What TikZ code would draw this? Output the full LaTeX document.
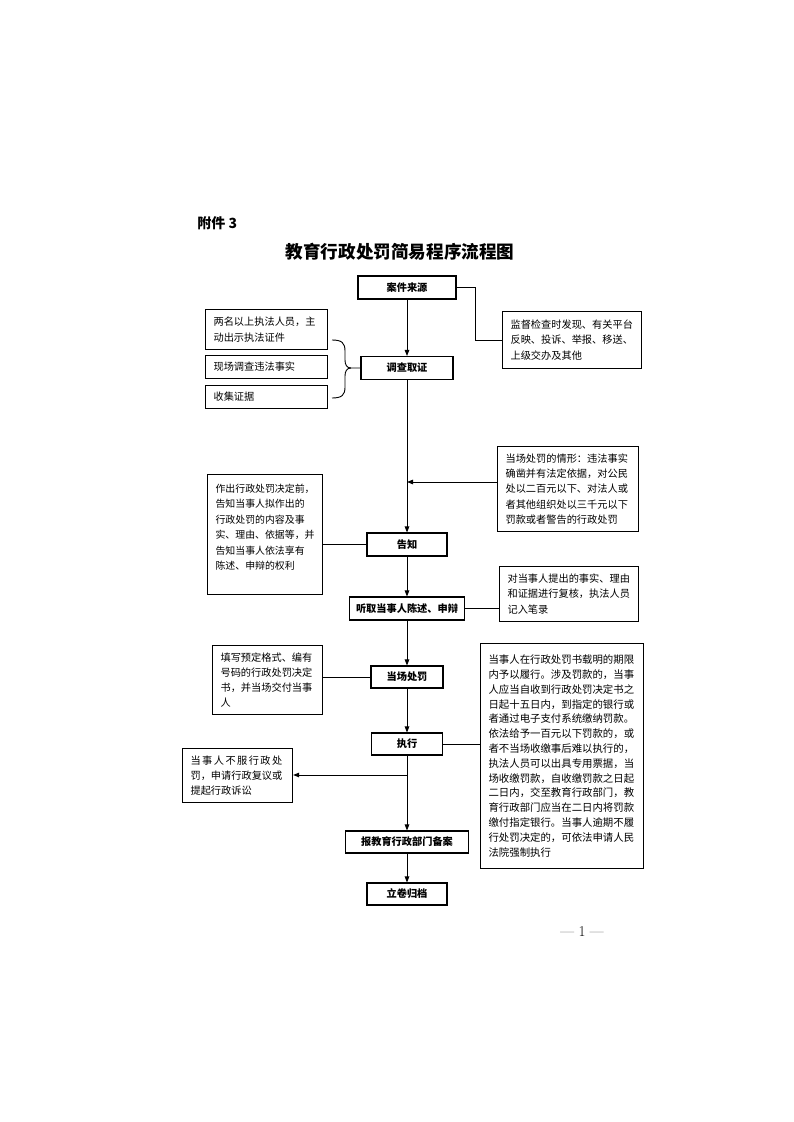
\documentclass[tikz,border=0pt]{standalone}
\usepackage{fontspec}
\newfontfamily\cjk{Noto Sans CJK SC}
\usetikzlibrary{arrows.meta}
\begin{document}
\begin{tikzpicture}[x=1pt,y=-1pt,
  line width=0.9pt,
  arr/.style={-{Triangle[length=6pt,width=4.5pt]}},
  mbox/.style={draw, line width=1.1pt, fill=white, minimum height=23pt, inner sep=0pt,
    font=\cjk\bfseries\fontsize{10.2}{12}\selectfont},
  tbox/.style={draw, line width=1.1pt, fill=white, anchor=north west, inner xsep=8pt, inner ysep=2pt,
    align=left, font=\cjk\fontsize{10.2}{15.2}\selectfont},
]
\useasboundingbox (0,0) rectangle (793,1122);

% heading
\node[anchor=west, inner sep=0pt, font=\cjk\bfseries\fontsize{14}{16}\selectfont] (att) at (197,223) {附件 3};
\node[font=\cjk\bfseries\fontsize{17.6}{20}\selectfont] (title) at (400,252) {教育行政处罚简易程序流程图};

% main flow boxes
\node[mbox, minimum width=98pt] (src) at (407,287.5) {案件来源};
\node[mbox, minimum width=92pt] (inv) at (407,368) {调查取证};
\node[mbox, minimum width=80pt] (ntf) at (407,544.5) {告知};
\node[mbox, minimum width=115pt] (hear) at (407,608.5) {听取当事人陈述、申辩};
\node[mbox, minimum width=72pt, minimum height=22pt] (pen) at (407,677) {当场处罚};
\node[mbox, minimum width=71pt, minimum height=22pt] (exe) at (407,744) {执行};
\node[mbox, minimum width=123pt, minimum height=22pt] (rep) at (407,842) {报教育行政部门备案};
\node[mbox, minimum width=80pt, minimum height=22pt] (arc) at (407,894) {立卷归档};

% side text boxes
\node[tbox, minimum width=139pt, minimum height=57pt, text width=123pt] (mon) at (502,311)
  {监督检查时发现、有关平台\\反映、投诉、举报、移送、\\上级交办及其他};
\node[tbox, minimum width=122pt, minimum height=40pt, text width=106pt] (b1) at (205,309)
  {两名以上执法人员，主\\动出示执法证件};
\node[tbox, minimum width=122pt, minimum height=23pt, text width=106pt] (b2) at (205,355)
  {现场调查违法事实};
\node[tbox, minimum width=122pt, minimum height=23pt, text width=106pt] (b3) at (205,385)
  {收集证据};
\node[tbox, minimum width=141pt, minimum height=85pt, text width=125pt] (sit) at (497,446)
  {当场处罚的情形：违法事实\\确凿并有法定依据，对公民\\处以二百元以下、对法人或\\者其他组织处以三千元以下\\罚款或者警告的行政处罚};
\node[tbox, minimum width=115pt, minimum height=120pt, text width=99pt, font=\cjk\fontsize{9.9}{15.4}\selectfont] (inf) at (207,474)
  {作出行政处罚决定前，\\告知当事人拟作出的\\行政处罚的内容及事\\实、理由、依据等，并\\告知当事人依法享有\\陈述、申辩的权利\\\mbox{}};
\node[tbox, minimum width=139pt, minimum height=55pt, text width=123pt] (rev) at (499,566)
  {对当事人提出的事实、理由\\和证据进行复核，执法人员\\记入笔录};
\node[tbox, minimum width=110pt, minimum height=69pt, text width=94pt] (fill) at (212,645)
  {填写预定格式、编有\\号码的行政处罚决定\\书，并当场交付当事\\人};
\node[tbox, minimum width=163pt, minimum height=225pt, text width=147pt, font=\cjk\fontsize{10.4}{14.8}\selectfont] (big) at (480,643)
  {当事人在行政处罚书载明的期限\\内予以履行。涉及罚款的，当事\\人应当自收到行政处罚决定书之\\日起十五日内，到指定的银行或\\者通过电子支付系统缴纳罚款。\\依法给予一百元以下罚款的，或\\者不当场收缴事后难以执行的，\\执法人员可以出具专用票据，当\\场收缴罚款，自收缴罚款之日起\\二日内，交至教育行政部门，教\\育行政部门应当在二日内将罚款\\缴付指定银行。当事人逾期不履\\行处罚决定的，可依法申请人民\\法院强制执行};
\node[tbox, minimum width=110pt, minimum height=54pt, text width=94pt] (app) at (182,748)
  {\makebox[9em][s]{当\hfil 事\hfil 人\hfil 不\hfil 服\hfil 行\hfil 政\hfil 处}\\罚，申请行政复议或\\提起行政诉讼};

% main arrows
\draw[arr] (src.south) -- (inv.north);
\draw[arr] (inv.south) -- (ntf.north);
\draw[arr] (ntf.south) -- (hear.north);
\draw[arr] (hear.south) -- (pen.north);
\draw[arr] (pen.south) -- (exe.north);
\draw[arr] (exe.south) -- (rep.north);
\draw[arr] (rep.south) -- (arc.north);

% side connectors
\draw (src.east) -| ([xshift=-27pt]mon.west) -- (mon.west);
\coordinate (bt) at (351,368);
\draw (332,340) .. controls (342,340) and (345,343) .. (345,351) -- (345,360)
  .. controls (345,365) and (347,368) .. (bt) -- (inv.west);
\draw (332,398) .. controls (342,398) and (345,395) .. (345,387) -- (345,376)
  .. controls (345,371) and (347,368) .. (bt);
\coordinate (m1) at (407,482);
\draw[arr] (sit.west |- m1) -- (m1);
\draw (ntf.west) -- (ntf.west -| inf.east);
\draw (hear.east) -- (hear.east -| rev.west);
\draw (pen.west) -- (pen.west -| fill.east);
\draw (exe.east) -- (exe.east -| big.west);
\coordinate (m2) at (407,775);
\draw[arr] (m2) -- (m2 -| app.east);

% page number
\node[font=\fontsize{15}{17}\selectfont] (pg) at (582,932) {— 1 —};
\end{tikzpicture}
\end{document}
